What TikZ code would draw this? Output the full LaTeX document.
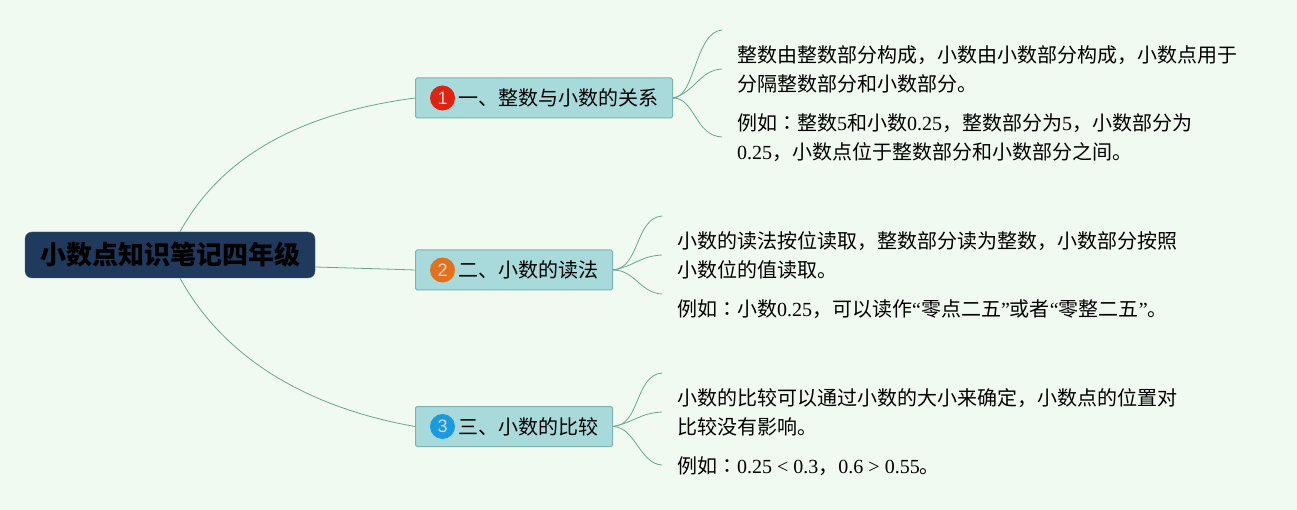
\documentclass[tikz,border=0pt]{standalone}
\usepackage{fontspec}
\usepackage{xcolor}
\usetikzlibrary{positioning}
\setmainfont{Noto Sans CJK SC}
\newfontfamily\latinfont{Liberation Serif}
\newfontfamily\colonfont{Noto Sans CJK TC}
\newfontfamily\badgefont{Liberation Sans}
\newcommand{\lat}[1]{{\latinfont #1}}
\newcommand{\zhcolon}{{\colonfont ：}}
\definecolor{bgcolor}{HTML}{F0FAF0}
\definecolor{rootcolor}{HTML}{1F3A5C}
\definecolor{topiccolor}{HTML}{A8DADC}
\definecolor{topicline}{HTML}{7DB5AE}
\definecolor{edgecolor}{HTML}{6AA593}
\definecolor{badgered}{HTML}{E0230F}
\definecolor{badgeorange}{HTML}{E5701A}
\definecolor{badgeblue}{HTML}{1A9AE0}
\tikzset{
    root_node/.style = {rectangle, rounded corners=7pt, draw=rootcolor!80!white, fill=rootcolor, minimum width=290pt, minimum height=46pt, inner sep=0pt, font=\fontsize{26}{29}\selectfont\bfseries, text=black},
    topic_node/.style = {rectangle, rounded corners=1.5pt, draw=topicline, line width=1pt, fill=topiccolor, minimum height=40pt, inner sep=0pt, anchor=west, align=left, font=\fontsize{20}{29}\selectfont, text=black},
    badge_node/.style = {circle, minimum size=25pt, inner sep=0pt, text=white!85!black, font=\fontsize{18}{18}\selectfont\badgefont},
    leaf_node/.style = {align=left, inner sep=0pt, anchor=west, font=\fontsize{20}{29}\selectfont, text=black},
    branch/.style = {draw=edgecolor, line width=0.8pt}
}
\begin{document}
\begin{tikzpicture}[x=1pt,y=-1pt]
    \fill[bgcolor] (0,0) rectangle (1297,510);
    \useasboundingbox (0,0) rectangle (1297,510);

    \node [root_node] (root) at (170,255) {小数点知识笔记四年级};

    \node [topic_node, text width=257pt] (topic1) at (415,98) {\hspace*{43pt}一、整数与小数的关系};
    \node [topic_node, text width=197pt] (topic2) at (415,270) {\hspace*{43pt}二、小数的读法};
    \node [topic_node, text width=197pt] (topic3) at (415,426.5) {\hspace*{43pt}三、小数的比较};

    \node [badge_node, fill=badgered] (badge1) at (442.5,98) {1};
    \node [badge_node, fill=badgeorange] (badge2) at (442.5,270) {2};
    \node [badge_node, fill=badgeblue] (badge3) at (442.5,426.5) {3};

    \node [leaf_node] (leaf11) at (737,69.5) {整数由整数部分构成，小数由小数部分构成，小数点用于\\分隔整数部分和小数部分。};
    \node [leaf_node] (leaf12) at (737,137.5) {例如\zhcolon 整数\lat{5}和小数\lat{0.25}，整数部分为\lat{5}，小数部分为\\\lat{0.25}，小数点位于整数部分和小数部分之间。};
    \node [leaf_node] (leaf21) at (677,255.5) {小数的读法按位读取，整数部分读为整数，小数部分按照\\小数位的值读取。};
    \node [leaf_node] (leaf22) at (677,309) {例如\zhcolon 小数\lat{0.25}，可以读作\lat{“}零点二五\lat{”}或者\lat{“}零整二五\lat{”}。};
    \node [leaf_node] (leaf31) at (677,412.5) {小数的比较可以通过小数的大小来确定，小数点的位置对\\比较没有影响。};
    \node [leaf_node] (leaf32) at (677,466) {例如\zhcolon \lat{0.25 < 0.3}，\lat{0.6 > 0.55}。};

    \coordinate (end11) at (722,30);
    \coordinate (end12) at (722,69);
    \coordinate (end13) at (722,137);
    \coordinate (end21) at (662,216);
    \coordinate (end22) at (662,255);
    \coordinate (end23) at (662,294);
    \coordinate (end31) at (662,373);
    \coordinate (end32) at (662,412);
    \coordinate (end33) at (662,465);

    % root to topics
    \draw [branch] ([xshift=10pt]root.north) .. controls (225,150) and (310,112) .. (topic1.west);
    \draw [branch] (root.east |- 0,267) .. controls (350,268) and (385,269) .. (topic2.west);
    \draw [branch] ([xshift=10pt]root.south) .. controls (225,360) and (310,408) .. (topic3.west);

    % topic 1
    \draw [branch] (topic1.east) .. controls (695,98) and (695,32) .. (end11);
    \draw [branch] (topic1.east) .. controls (695,92) and (700,70) .. (end12);
    \draw [branch] (topic1.east) .. controls (695,98) and (695,136) .. (end13);

    % topic 2
    \draw [branch] (topic2.east) .. controls (640,268) and (635,218) .. (end21);
    \draw [branch] (topic2.east) .. controls (635,266) and (640,256) .. (end22);
    \draw [branch] (topic2.east) .. controls (635,270) and (640,293) .. (end23);

    % topic 3
    \draw [branch] (topic3.east) .. controls (640,426) and (635,375) .. (end31);
    \draw [branch] (topic3.east) .. controls (635,422) and (640,413) .. (end32);
    \draw [branch] (topic3.east) .. controls (635,427) and (640,464) .. (end33);
\end{tikzpicture}
\end{document}
